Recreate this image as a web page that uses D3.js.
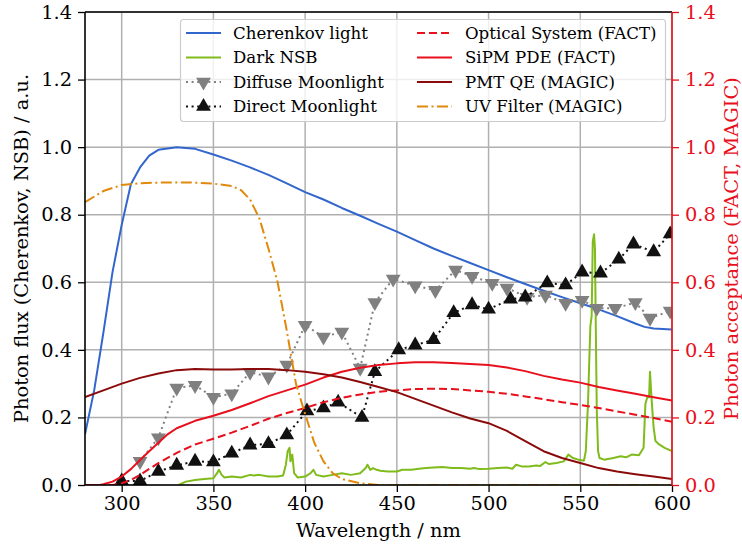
<!DOCTYPE html>
<html>
<head>
<meta charset="utf-8">
<script src="https://cdn.jsdelivr.net/npm/d3@7"></script>
<style>
  html, body { margin: 0; padding: 0; background: #fff; }
  svg { display: block; }
  svg text { font-family: "DejaVu Serif", "Liberation Serif", serif; }
</style>
</head>
<body>
<svg id="chart" width="742" height="547"></svg>
<script>
// ---- data: wavelength (nm) / value pairs ----
const cherenkov = [
  [280,0.15],[285,0.28],[290,0.45],[295,0.63],[300,0.77],[305,0.89],[310,0.94],[315,0.975],
  [320,0.992],[330,1.0],[340,0.995],[350,0.978],[360,0.96],[370,0.94],[380,0.918],[390,0.893],
  [400,0.867],[410,0.845],[420,0.82],[430,0.797],[440,0.773],[450,0.75],[460,0.725],[470,0.70],
  [480,0.678],[490,0.657],[500,0.636],[510,0.615],[520,0.595],[530,0.575],[540,0.556],[550,0.538],
  [560,0.52],[570,0.5],[580,0.478],[585,0.468],[590,0.463],[600,0.46]
];

const darkNSB = [
  [331,0.0],[335,0.01],[340,0.015],[345,0.018],[350,0.02],[352,0.035],[353,0.045],[354.5,0.03],
  [356,0.022],[360,0.025],[365,0.022],[370,0.03],[372,0.028],[375,0.03],[380,0.025],[385,0.025],
  [388,0.028],[389.5,0.06],[390.5,0.1],[391.5,0.11],[392,0.07],[393,0.09],[394,0.035],[396,0.022],
  [400,0.025],[403,0.035],[404.5,0.045],[406,0.03],[410,0.025],[415,0.03],[420,0.035],[425,0.03],
  [430,0.035],[433,0.05],[434,0.06],[435.5,0.045],[437,0.05],[439,0.045],[441,0.042],[445,0.04],
  [450,0.04],[453,0.045],[458,0.045],[462,0.048],[466,0.05],[470,0.052],[475,0.053],[480,0.05],
  [485,0.05],[490,0.048],[492,0.05],[495,0.047],[500,0.048],[505,0.05],[510,0.052],[513,0.048],
  [515,0.06],[518,0.055],[522,0.055],[526,0.058],[528,0.056],[531,0.068],[533,0.062],[537,0.065],
  [541,0.07],[543.5,0.09],[546,0.08],[549,0.075],[552,0.072],[553,0.1],[553.5,0.16],[554.2,0.24],
  [554.8,0.35],[555.5,0.47],[556.2,0.5],[556.8,0.72],[557.5,0.742],[558,0.7],[558.5,0.45],
  [559,0.22],[559.7,0.1],[560.5,0.08],[563,0.075],[568,0.08],[572,0.085],[575,0.082],[578,0.09],
  [582,0.088],[584.5,0.11],[585.5,0.24],[586.5,0.26],[587.5,0.26],[588,0.335],[588.7,0.27],
  [589.3,0.22],[590,0.17],[591,0.13],[593,0.12],[596,0.11],[600,0.1]
];

const diffuseMoon = [
  [310,0.07],[320,0.14],[330,0.287],[340,0.295],[350,0.26],[360,0.27],[370,0.334],[380,0.32],
  [390,0.355],[400,0.473],[410,0.438],[420,0.453],[430,0.346],[438,0.54],[448,0.61],[460,0.59],
  [471,0.576],[482,0.636],[491,0.618],[502,0.597],[510,0.583],[521,0.556],[531,0.562],[542,0.538],
  [551,0.547],[559,0.523],[569,0.523],[580,0.54],[588,0.494],[599,0.515]
];

const directMoon = [
  [300,0.012],[310,0.012],[320,0.04],[330,0.058],[340,0.07],[350,0.068],[360,0.094],[370,0.118],
  [380,0.122],[390,0.148],[401,0.219],[410,0.228],[418,0.245],[431,0.20],[438,0.335],[451,0.40],
  [460,0.414],[470,0.43],[481,0.51],[491,0.533],[500,0.52],[512,0.55],[520,0.556],[532,0.598],
  [542,0.592],[551,0.63],[561,0.627],[571,0.668],[579,0.713],[590,0.69],[599,0.743]
];

const opticalFACT = [
  [280,0],[295,0],[300,0.005],[305,0.015],[310,0.03],[320,0.065],[330,0.095],[340,0.12],
  [350,0.137],[360,0.155],[370,0.175],[380,0.196],[390,0.213],[400,0.228],[410,0.245],[420,0.258],
  [430,0.268],[440,0.276],[450,0.28],[460,0.284],[470,0.285],[480,0.284],[490,0.28],[500,0.276],
  [510,0.27],[520,0.262],[530,0.254],[540,0.245],[550,0.237],[560,0.228],[570,0.218],[580,0.208],
  [590,0.198],[600,0.187]
];

const sipmPDE = [
  [280,0],[288,0],[290,0.002],[295,0.01],[300,0.025],[305,0.047],[310,0.074],[315,0.1],[320,0.125],
  [325,0.15],[330,0.168],[340,0.19],[350,0.205],[360,0.222],[370,0.242],[380,0.263],[390,0.28],
  [400,0.297],[410,0.318],[420,0.335],[430,0.347],[440,0.355],[450,0.36],[460,0.363],[470,0.363],
  [480,0.361],[490,0.358],[500,0.355],[510,0.348],[520,0.337],[530,0.323],[540,0.312],[550,0.303],
  [560,0.29],[570,0.28],[580,0.27],[590,0.26],[600,0.25]
];

const pmtQE = [
  [280,0.26],[290,0.28],[300,0.30],[310,0.317],[320,0.33],[330,0.34],[340,0.343],[350,0.342],
  [360,0.342],[370,0.343],[380,0.343],[390,0.34],[400,0.335],[410,0.328],[420,0.318],[430,0.305],
  [440,0.29],[450,0.275],[460,0.255],[470,0.235],[480,0.215],[490,0.197],[500,0.183],[510,0.16],
  [520,0.13],[530,0.10],[540,0.08],[550,0.065],[560,0.05],[570,0.04],[580,0.032],[590,0.025],[600,0.018]
];

const uvFilter = [
  [280,0.837],[290,0.87],[300,0.888],[310,0.893],[320,0.895],[330,0.895],[340,0.895],[350,0.892],
  [360,0.885],[365,0.873],[370,0.845],[375,0.79],[380,0.70],[385,0.60],[390,0.457],[395,0.30],
  [400,0.21],[405,0.125],[410,0.07],[415,0.035],[420,0.018],[430,0.005],[440,0],[600,0]
];

const xTicks = [300, 350, 400, 450, 500, 550, 600];
const yTicks = [0, 0.2, 0.4, 0.6, 0.8, 1.0, 1.2, 1.4];

// ---- layout ----
const plot = { left: 85, right: 672, top: 12, bottom: 485 };
const FS = 19.4;          // axis text size
const RED = "#e8101c";

const svg = d3.select("#chart");

const x = d3.scaleLinear().domain([280, 600]).range([plot.left, plot.right]);
const y = d3.scaleLinear().domain([0, 1.4]).range([plot.bottom, plot.top]);
const yR = d3.scaleLinear().domain([0, 1.4]).range([plot.bottom, plot.top]);

svg.append("defs").append("clipPath").attr("id", "plotclip")
  .append("rect")
  .attr("x", plot.left).attr("y", plot.top)
  .attr("width", plot.right - plot.left).attr("height", plot.bottom - plot.top);

// grid
const grid = svg.append("g").attr("stroke", "#b0b0b0").attr("stroke-width", 1.5);
grid.selectAll("line.v").data(xTicks).join("line")
  .attr("x1", d => x(d)).attr("x2", d => x(d))
  .attr("y1", plot.top).attr("y2", plot.bottom);
grid.selectAll("line.h").data(yTicks).join("line")
  .attr("x1", plot.left).attr("x2", plot.right)
  .attr("y1", d => y(d)).attr("y2", d => y(d));

// series
const series = [
  { name: "Cherenkov light",        data: cherenkov,   color: "#3366cc", dash: null,        scale: y },
  { name: "Dark NSB",               data: darkNSB,     color: "#80bb1c", dash: null,        scale: y },
  { name: "Diffuse Moonlight",      data: diffuseMoon, color: "#808080", dash: "2,3.6",     scale: y, marker: "down" },
  { name: "Direct Moonlight",       data: directMoon,  color: "#111111", dash: "2,3.6",     scale: y, marker: "up" },
  { name: "Optical System (FACT)",  data: opticalFACT, color: RED,       dash: "8,4",       scale: yR },
  { name: "SiPM PDE (FACT)",        data: sipmPDE,     color: RED,       dash: null,        scale: yR },
  { name: "PMT QE (MAGIC)",         data: pmtQE,       color: "#8b0a0a", dash: null,        scale: yR },
  { name: "UV Filter (MAGIC)",      data: uvFilter,    color: "#e0890c", dash: "11,3.5,2,3.5", scale: yR }
];

const triangle = d3.symbol().type(d3.symbolTriangle).size(95)();

const layer = svg.append("g").attr("clip-path", "url(#plotclip)");
series.forEach(s => {
  const line = d3.line().x(d => x(d[0])).y(d => s.scale(d[1]));
  layer.append("path")
    .datum(s.data)
    .attr("d", line)
    .attr("fill", "none")
    .attr("stroke", s.color)
    .attr("stroke-width", 2)
    .attr("stroke-dasharray", s.dash)
    .attr("stroke-linejoin", "round");
  if (s.marker) {
    layer.append("g").selectAll("path").data(s.data).join("path")
      .attr("d", triangle)
      .attr("transform", d => `translate(${x(d[0])},${s.scale(d[1])}) rotate(${s.marker === "down" ? 180 : 0})`)
      .attr("fill", s.color);
  }
});

// axes
function styleAxis(g, color) {
  g.attr("font-family", null);
  g.selectAll("text").attr("font-size", FS).attr("fill", color);
  g.selectAll(".tick line").attr("stroke", color).attr("stroke-width", 1.3);
  g.select(".domain").remove();
}
const fmt = d3.format(".1f");

const gx = svg.append("g").attr("transform", `translate(0,${plot.bottom})`)
  .call(d3.axisBottom(x).tickValues(xTicks).tickSize(7).tickPadding(4).tickFormat(d3.format("d")));
styleAxis(gx, "#000");

const gy = svg.append("g").attr("transform", `translate(${plot.left},0)`)
  .call(d3.axisLeft(y).tickValues(yTicks).tickSize(7).tickPadding(6).tickFormat(fmt));
styleAxis(gy, "#000");

const gyR = svg.append("g").attr("transform", `translate(${plot.right},0)`)
  .call(d3.axisRight(yR).tickValues(yTicks).tickSize(7).tickPadding(6).tickFormat(fmt));
styleAxis(gyR, RED);

// spines
const sp = svg.append("g").attr("fill", "none").attr("stroke-width", 1.6);
sp.append("line").attr("x1", plot.left).attr("x2", plot.right).attr("y1", plot.top).attr("y2", plot.top).attr("stroke", "#000");
sp.append("line").attr("x1", plot.left).attr("x2", plot.right).attr("y1", plot.bottom).attr("y2", plot.bottom).attr("stroke", "#000");
sp.append("line").attr("x1", plot.left).attr("x2", plot.left).attr("y1", plot.top).attr("y2", plot.bottom).attr("stroke", "#000");
sp.append("line").attr("x1", plot.right).attr("x2", plot.right).attr("y1", plot.top).attr("y2", plot.bottom).attr("stroke", RED);

// axis titles
svg.append("text")
  .attr("x", (plot.left + plot.right) / 2).attr("y", 537)
  .attr("text-anchor", "middle").attr("font-size", FS).attr("fill", "#000")
  .text("Wavelength / nm");
svg.append("text")
  .attr("transform", `translate(28,${(plot.top + plot.bottom) / 2}) rotate(-90)`)
  .attr("text-anchor", "middle").attr("font-size", FS).attr("fill", "#000")
  .text("Photon flux (Cherenkov, NSB) / a.u.");
svg.append("text")
  .attr("transform", `translate(738,${(plot.top + plot.bottom) / 2}) rotate(-90)`)
  .attr("text-anchor", "middle").attr("font-size", FS).attr("fill", RED)
  .text("Photon acceptance (FACT, MAGIC)");

// legend
const leg = svg.append("g");
leg.append("rect")
  .attr("x", 180.5).attr("y", 19.5).attr("width", 485).attr("height", 102)
  .attr("rx", 3).attr("fill", "#fff").attr("fill-opacity", 0.8)
  .attr("stroke", "#cccccc").attr("stroke-width", 1.2);
const rowY = [33, 57.5, 82, 106.5];
series.forEach((s, i) => {
  const col = Math.floor(i / 4), row = i % 4;
  const hx0 = col === 0 ? 186 : 417, hx1 = hx0 + 35, tx = col === 0 ? 233 : 465;
  const cy = rowY[row];
  const g = leg.append("g");
  g.append("line").attr("x1", hx0).attr("x2", hx1).attr("y1", cy).attr("y2", cy)
    .attr("stroke", s.color).attr("stroke-width", 2).attr("stroke-dasharray", s.dash);
  if (s.marker) {
    g.append("path").attr("d", triangle)
      .attr("transform", `translate(${(hx0 + hx1) / 2},${cy}) rotate(${s.marker === "down" ? 180 : 0})`)
      .attr("fill", s.color);
  }
  g.append("text").attr("x", tx).attr("y", cy).attr("dy", "0.36em")
    .attr("font-size", 16.6).attr("fill", "#000").text(s.name);
});
</script>
</body>
</html>
